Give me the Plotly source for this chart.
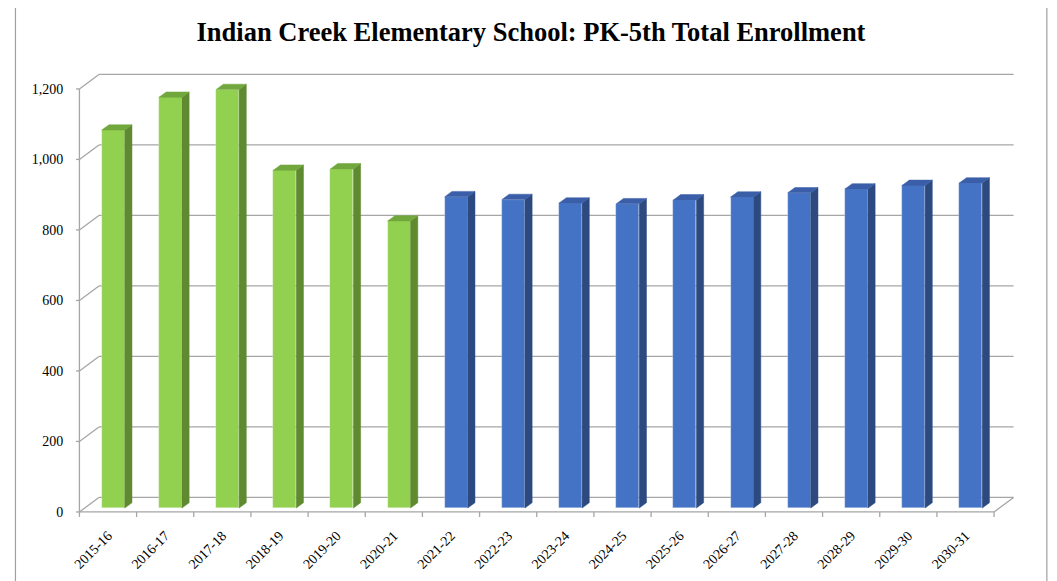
import plotly.graph_objects as go

# ---- data ----
years = ["2015-16", "2016-17", "2017-18", "2018-19", "2019-20", "2020-21",
         "2021-22", "2022-23", "2023-24", "2024-25", "2025-26", "2026-27",
         "2027-28", "2028-29", "2029-30", "2030-31"]
enrollment = [1072, 1165, 1187, 958, 962, 814,
              883, 875, 865, 863, 874, 882, 894, 905, 915, 922]
n_actual = 6  # first six are actual (green), rest projected (blue)
y_ticks = [0, 200, 400, 600, 800, 1000, 1200]
y_tick_text = ["0", "200", "400", "600", "800", "1,000", "1,200"]
title = "Indian Creek Elementary School: PK-5th Total Enrollment"

# ---- styling ----
OFF = 8                  # page body margin in the browser
W, H = 1057 - OFF, 581 - OFF
px_per_cat = 57.2        # pixels per category
px_per_unit = 0.3525     # pixels per enrollment unit
depth_px = (19.5, 14.5)  # pseudo-3D depth offset in pixels
Dx = depth_px[0] / px_per_cat
Dy = depth_px[1] / px_per_unit
f0, fd = 0.27, 0.37      # bar front depth fraction, bar depth fraction
bar_w = 23 / px_per_cat

front_axis_px = 79.0 - OFF
front_zero_px = 511.7 - OFF
x_lo, x_hi = -0.56, len(years) - 0.5 + Dx + 0.06
y_lo, y_hi = -20, 1200 + Dy + 4

ml = front_axis_px + px_per_cat * (x_lo + 0.5)
plot_w = (x_hi - x_lo) * px_per_cat
mr = W - ml - plot_w
mt = front_zero_px - y_hi * px_per_unit
plot_h = (y_hi - y_lo) * px_per_unit
mb = H - mt - plot_h

grid_c = "#A6A6A6"
green = dict(front="#92D050", side="#5F8A30", top="#71A73C")
blue = dict(front="#4472C4", side="#2C4A80", top="#3A5FA8")

fig = go.Figure()

# front faces
xs = [i + f0 * Dx for i in range(len(years))]
base = f0 * Dy
cols = [green["front"] if i < n_actual else blue["front"] for i in range(len(years))]
fig.add_trace(go.Bar(x=xs, y=enrollment, base=base, width=bar_w,
                     marker=dict(color=cols, line=dict(width=0.6, color="rgba(255,255,255,0.45)")),
                     hoverinfo="skip", showlegend=False))

# side and top faces
for i, v in enumerate(enrollment):
    pal = green if i < n_actual else blue
    xl = xs[i] - bar_w / 2
    xr = xs[i] + bar_w / 2
    yb = base
    yt = base + v
    ddx, ddy = fd * Dx, fd * Dy
    fig.add_trace(go.Scatter(
        x=[xr, xr + ddx, xr + ddx, xr, xr],
        y=[yb, yb + ddy, yt + ddy, yt, yb],
        fill="toself", fillcolor=pal["side"], mode="lines",
        line=dict(width=0.5, color=pal["side"]), hoverinfo="skip", showlegend=False))
    fig.add_trace(go.Scatter(
        x=[xl, xr, xr + ddx, xl + ddx, xl],
        y=[yt, yt, yt + ddy, yt + ddy, yt],
        fill="toself", fillcolor=pal["top"], mode="lines",
        line=dict(width=0.5, color=pal["top"]), hoverinfo="skip", showlegend=False))

shapes = []
x_left = -0.5
x_right = len(years) - 0.5
ln = dict(color=grid_c, width=1.3)
for t in y_ticks:
    # diagonal on side wall
    shapes.append(dict(type="line", xref="x", yref="y", x0=x_left, y0=t,
                       x1=x_left + Dx, y1=t + Dy, line=ln, layer="below"))
    # back wall gridline
    shapes.append(dict(type="line", xref="x", yref="y", x0=x_left + Dx, y0=t + Dy,
                       x1=x_right + Dx, y1=t + Dy, line=ln, layer="below"))
    # y tick mark
    shapes.append(dict(type="line", xref="x", yref="y", x0=x_left - 5 / px_per_cat, y0=t,
                       x1=x_left, y1=t, line=ln, layer="below"))
# front y axis line
shapes.append(dict(type="line", xref="x", yref="y", x0=x_left, y0=0, x1=x_left, y1=1200,
                   line=ln, layer="below"))
# floor front edge and right edge
shapes.append(dict(type="line", xref="x", yref="y", x0=x_left, y0=0, x1=x_right, y1=0,
                   line=ln, layer="below"))
shapes.append(dict(type="line", xref="x", yref="y", x0=x_right, y0=0, x1=x_right + Dx, y1=Dy,
                   line=ln, layer="below"))
# x tick marks at category boundaries
for k in range(len(years) + 1):
    shapes.append(dict(type="line", xref="x", yref="y", x0=k - 0.5, y0=0,
                       x1=k - 0.5, y1=-5 / px_per_unit, line=ln, layer="below"))

# chart border (paper coords)
def px_to_paper_x(p):
    return (p - OFF - ml) / plot_w

def px_to_paper_y(p):
    return (H - mb - (p - OFF)) / plot_h

bc = dict(color="#A0A0A0", width=1.2)
shapes.append(dict(type="line", xref="paper", yref="paper",
                   x0=px_to_paper_x(15), x1=px_to_paper_x(15),
                   y0=px_to_paper_y(6), y1=px_to_paper_y(600), line=bc))
shapes.append(dict(type="line", xref="paper", yref="paper",
                   x0=px_to_paper_x(1047), x1=px_to_paper_x(1047),
                   y0=px_to_paper_y(6), y1=px_to_paper_y(600), line=bc))
shapes.append(dict(type="line", xref="paper", yref="paper",
                   x0=px_to_paper_x(15), x1=px_to_paper_x(1047),
                   y0=px_to_paper_y(6), y1=px_to_paper_y(6), line=bc))

serif = "Liberation Serif, Times New Roman, serif"
fig.update_layout(
    width=W, height=H,
    margin=dict(l=ml, r=mr, t=mt, b=mb, pad=0, autoexpand=False),
    paper_bgcolor="white", plot_bgcolor="white",
    shapes=shapes,
    title=dict(text="<b>" + title + "</b>", x=(531 - OFF) / W, xanchor="center",
               y=1 - (32 - OFF) / H, yanchor="middle",
               font=dict(family=serif, size=26.5, color="#000000")),
    xaxis=dict(range=[x_lo, x_hi], tickvals=list(range(len(years))), ticktext=years,
               tickangle=-45, showgrid=False, zeroline=False, showline=False,
               automargin=False,
               ticks="outside", ticklen=2, tickcolor="rgba(0,0,0,0)",
               tickfont=dict(family=serif, size=14, color="#000000")),
    yaxis=dict(range=[y_lo, y_hi], tickvals=y_ticks, ticktext=y_tick_text,
               showgrid=False, zeroline=False, showline=False,
               automargin=False,
               ticks="outside", ticklen=9, tickcolor="rgba(0,0,0,0)",
               tickfont=dict(family=serif, size=14, color="#000000")),
    bargap=0,
)

fig.write_html("out.html")
